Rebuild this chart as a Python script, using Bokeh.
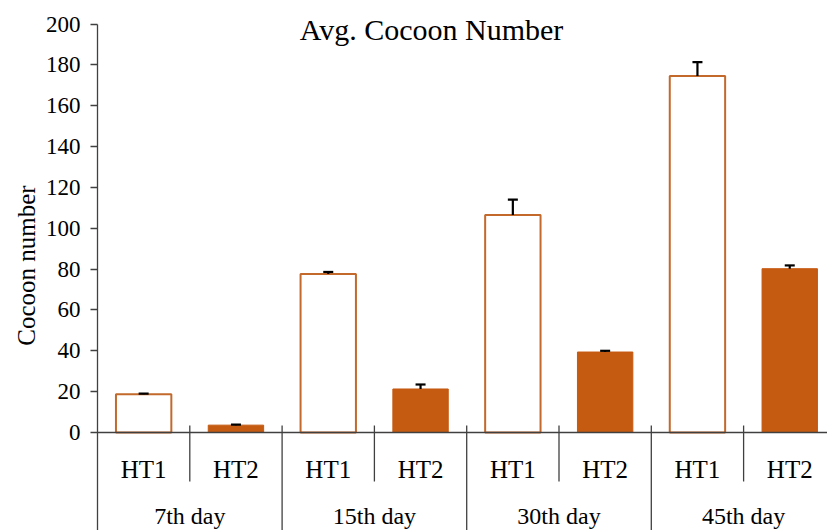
from bokeh.plotting import figure
from bokeh.models import Range1d, FixedTicker, Whisker, TeeHead, ColumnDataSource, Span, Title
from bokeh.core.properties import value
from bokeh.embed import file_html
from bokeh.resources import INLINE

# ---- data ----
days = ["7th day", "15th day", "30th day", "45th day"]
treatments = ["HT1", "HT2"]
ht1_mean = [18.7, 77.6, 106.5, 174.5]
ht1_err = [0.3, 1.0, 7.5, 6.8]
ht2_mean = [3.6, 21.3, 39.4, 80.2]
ht2_err = [0.3, 2.2, 0.6, 1.6]
y_ticks = list(range(0, 201, 20))
title_text = "Avg. Cocoon Number"
y_label = "Cocoon number"

FONT = "Liberation Serif"
BAR = "#C55A11"
OUTLINE = "#C2692B"
AXIS = "#404040"

W, H = 827, 530
LEFT = 97
PX_PER_UNIT = 2.0425      # vertical pixels per y unit
ZERO_Y = 432              # pixel row of y = 0
SLOT = 92.3               # pixels per category slot

x_end = (W - LEFT) / SLOT
y_end = ZERO_Y / PX_PER_UNIT
y_start = -(H - ZERO_Y) / PX_PER_UNIT

p = figure(width=W, height=H, output_backend="svg", toolbar_location=None,
           x_range=Range1d(0, x_end), y_range=Range1d(y_start, y_end),
           x_axis_type=None, min_border_left=LEFT, min_border_right=0,
           min_border_top=0, min_border_bottom=0)
p.outline_line_color = None
p.xgrid.visible = False
p.ygrid.visible = False
p.background_fill_color = "white"

# y axis
ax = p.yaxis[0]
ax.ticker = FixedTicker(ticks=y_ticks)
ax.bounds = (y_start, 200)
ax.axis_line_color = AXIS
ax.axis_line_width = 1.3
ax.major_tick_line_color = AXIS
ax.major_tick_line_width = 1.3
ax.major_tick_out = 7
ax.major_tick_in = 0
ax.minor_tick_line_color = None
ax.major_label_text_font = FONT
ax.major_label_text_font_size = "23px"
ax.major_label_text_color = "black"
ax.major_label_standoff = 10

# y axis title as a side title
p.add_layout(Title(text=y_label, align="center", offset=14, standoff=6,
                   text_font=FONT, text_font_size="25px",
                   text_font_style="normal", text_color="black"), "left")

# bars
x1 = [2 * d + 0.5 for d in range(len(days))]
x2 = [2 * d + 1.5 for d in range(len(days))]
p.vbar(x=x1, top=ht1_mean, bottom=0, width=0.6, fill_color="white",
       line_color=OUTLINE, line_width=2)
p.vbar(x=x2, top=ht2_mean, bottom=0, width=0.6, fill_color=BAR,
       line_color=BAR, line_width=1)

# error bars (upper only)
xs = x1 + x2
means = ht1_mean + ht2_mean
errs = ht1_err + ht2_err
src = ColumnDataSource(dict(x=xs, lo=means, hi=[m + e for m, e in zip(means, errs)]))
w = Whisker(source=src, base="x", lower="lo", upper="hi", dimension="height",
            line_color="black", line_width=2.2,
            upper_head=TeeHead(size=10, line_color="black", line_width=2.2),
            lower_head=None, level="overlay")
p.add_layout(w)

# category axis line
p.add_layout(Span(location=0, dimension="width", line_color=AXIS, line_width=1.3))

# separators
tick_top = 7 / PX_PER_UNIT
inner_bottom = -(481 - ZERO_Y) / PX_PER_UNIT
inner = [2 * d + 1 for d in range(len(days))]
outer = [2 * d for d in range(1, len(days))]
p.segment(x0=inner, x1=inner, y0=[tick_top] * len(inner), y1=[inner_bottom] * len(inner),
          line_color=AXIS, line_width=1.3)
p.segment(x0=outer, x1=outer, y0=[tick_top] * len(outer), y1=[y_start] * len(outer),
          line_color=AXIS, line_width=1.3)

# category labels
ht_x = [2 * d + t + 0.5 for d in range(len(days)) for t in range(len(treatments))]
ht_txt = [treatments[t] for d in range(len(days)) for t in range(len(treatments))]
p.text(x=ht_x, y=[-(469 - ZERO_Y) / PX_PER_UNIT] * len(ht_x), text=ht_txt,
       text_font=value(FONT), text_font_size="25px", text_color="black",
       text_align="center", text_baseline="middle")
day_x = [2 * d + 1 for d in range(len(days))]
p.text(x=day_x, y=[-(515 - ZERO_Y) / PX_PER_UNIT] * len(day_x), text=days,
       text_font=value(FONT), text_font_size="24px", text_color="black",
       text_align="center", text_baseline="middle")

# title
p.text(x=[(431 - LEFT) / SLOT], y=[(ZERO_Y - 29) / PX_PER_UNIT], text=[title_text],
       text_font=value(FONT), text_font_size="30px", text_color="black",
       text_align="center", text_baseline="alphabetic")

open("out.html", "w").write(file_html(p, INLINE))
